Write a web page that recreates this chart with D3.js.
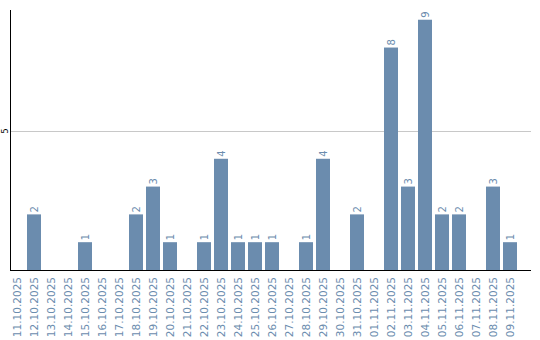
<!DOCTYPE html>
<html>
<head>
<meta charset="utf-8">
<script src="https://cdn.jsdelivr.net/npm/d3@7"></script>
<style>
  body { margin: 0; background: #fff; }
  svg { display: block; }
</style>
</head>
<body>
<div id="chart-area"></div>
<script>
// dates shown on the x axis
const dates = [
  "11.10.2025", "12.10.2025", "13.10.2025", "14.10.2025", "15.10.2025",
  "16.10.2025", "17.10.2025", "18.10.2025", "19.10.2025", "20.10.2025",
  "21.10.2025", "22.10.2025", "23.10.2025", "24.10.2025", "25.10.2025",
  "26.10.2025", "27.10.2025", "28.10.2025", "29.10.2025", "30.10.2025",
  "31.10.2025", "01.11.2025", "02.11.2025", "03.11.2025", "04.11.2025",
  "05.11.2025", "06.11.2025", "07.11.2025", "08.11.2025", "09.11.2025"
];
const counts = [
  0, 2, 0, 0, 1, 0, 0, 2, 3, 1,
  0, 1, 4, 1, 1, 1, 0, 1, 4, 0,
  2, 0, 8, 3, 9, 2, 2, 0, 3, 1
];
const yTicks = [5];

const svgWidth = 540;
const svgHeight = 340;
const barColor = "#6b8cae";

const svg = d3.select("#chart-area")
              .append("svg")
              .attr("width", svgWidth)
              .attr("height", svgHeight);

const plotLeft = 10, plotRight = 531, plotTop = 10, plotBottom = 270;

const x = d3.scaleBand()
            .domain(dates)
            .range([plotLeft, 517])
            .paddingInner(3 / 17)
            .paddingOuter(0);

const y = d3.scaleLinear()
            .domain([0, 9.35])
            .range([plotBottom, plotTop]);

// grid line
svg.selectAll(".grid")
   .data(yTicks)
   .enter()
   .append("line")
   .attr("x1", plotLeft + 1)
   .attr("x2", plotRight)
   .attr("y1", d => Math.round(y(d)) + 0.5)
   .attr("y2", d => Math.round(y(d)) + 0.5)
   .attr("stroke", "#c8c8c8");

const data = dates.map((d, i) => ({ date: d, count: counts[i] }));

svg.selectAll("rect")
   .data(data.filter(d => d.count > 0))
   .enter()
   .append("rect")
   .attr("x", d => x(d.date))
   .attr("y", d => y(d.count))
   .attr("width", x.bandwidth())
   .attr("height", d => plotBottom - y(d.count))
   .attr("fill", barColor);

// value labels, rotated
svg.selectAll(".val")
   .data(data.filter(d => d.count > 0))
   .enter()
   .append("text")
   .attr("transform", d => `translate(${x(d.date) + x.bandwidth() / 2},${y(d.count) - 2}) rotate(-90)`)
   .attr("dy", "0.35em")
   .attr("font-family", "DejaVu Sans")
   .attr("font-size", "10px")
   .attr("fill", barColor)
   .text(d => d.count);

// axes
const xAxis = svg.append("g")
   .attr("transform", `translate(0,${plotBottom})`)
   .call(d3.axisBottom(x).tickSize(0).tickPadding(0));
xAxis.select(".domain").remove();
xAxis.selectAll("text")
   .attr("font-family", "DejaVu Sans")
   .attr("font-size", "10.5px")
   .attr("fill", barColor)
   .attr("text-anchor", "end")
   .attr("dy", "0.35em")
   .attr("transform", "translate(0,7) rotate(-90)")
   .attr("x", 0)
   .attr("y", 0);

svg.append("line")
   .attr("x1", plotLeft).attr("x2", plotRight)
   .attr("y1", plotBottom + 0.5).attr("y2", plotBottom + 0.5)
   .attr("stroke", "#000");

svg.append("line")
   .attr("x1", plotLeft + 0.5).attr("x2", plotLeft + 0.5)
   .attr("y1", plotTop).attr("y2", plotBottom + 1)
   .attr("stroke", "#000");

svg.selectAll(".ytick")
   .data(yTicks)
   .enter()
   .append("text")
   .attr("transform", d => `translate(5,${y(d)}) rotate(-90)`)
   .attr("text-anchor", "middle")
   .attr("dy", "0.35em")
   .attr("font-family", "DejaVu Sans")
   .attr("font-size", "8px")
   .attr("fill", "#000")
   .text(d => d);
</script>
</body>
</html>
